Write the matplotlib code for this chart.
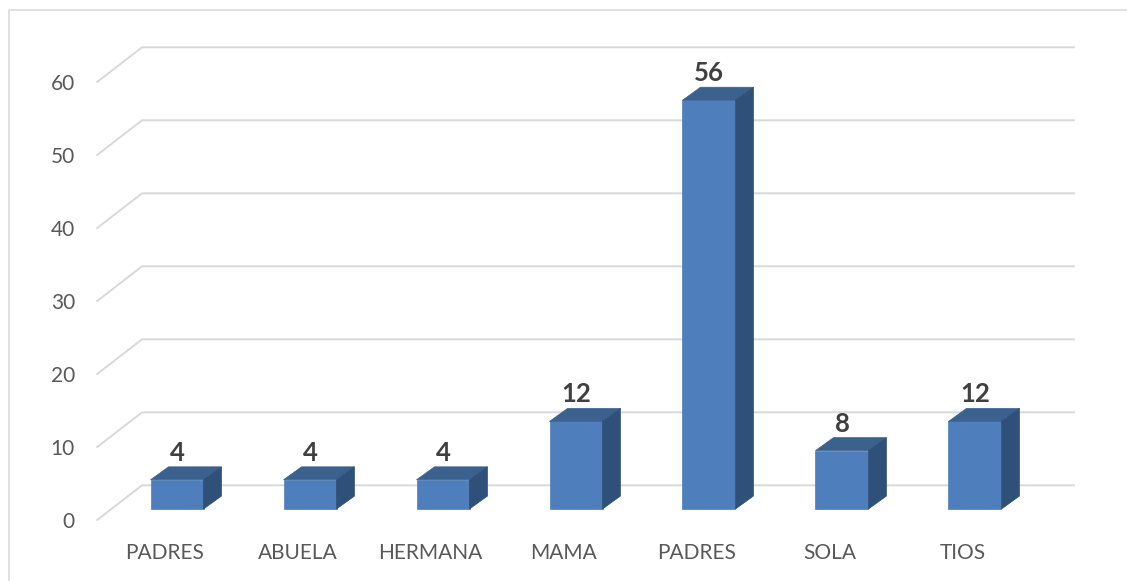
import matplotlib
matplotlib.use("Agg")
import matplotlib.pyplot as plt
from matplotlib.patches import Polygon
from matplotlib.lines import Line2D

categories = ["PADRES", "ABUELA", "HERMANA", "MAMA", "PADRES", "SOLA", "TIOS"]
values = [4, 4, 4, 12, 56, 8, 12]
y_ticks = [0, 10, 20, 30, 40, 50, 60]

plt.rcParams['font.family'] = ['Lato', 'DejaVu Sans']

c_front = "#4e7fbc"
c_top = "#3b618f"
c_side = "#2f5078"
c_grid = "#d9d9d9"
c_text = "#595959"
c_label = "#404040"

fig = plt.figure(figsize=(11.27, 5.81), dpi=100)
# axes fills the figure, limits chosen so one category = 133 px and 10 units = 73 px
ax = fig.add_axes([0, 0, 1, 1])
ax.set_xlim(-1.331, 7.143)
ax.set_ylim(-9.86, 69.73)
ax.axis('off')

half = 26.5 / 133
dx = 18 / 133     # depth of the bar
dy = 13 / 7.3
floor_y = -1.5    # front edge of the floor
wall_dy = 4.75    # floor depth
x_front = -0.60
x_back = -0.263
x_end = 6.744

for t in y_ticks:
    ax.plot([x_front, x_back, x_end], [t + floor_y, t + floor_y + wall_dy, t + floor_y + wall_dy],
            color=c_grid, lw=1.4, zorder=1, solid_joinstyle='miter')
    ax.annotate(str(t), (x_front, t + floor_y), xytext=(-16, -1.5), textcoords='offset points',
                ha='right', va='center', fontsize=15, color=c_text)

for i, v in enumerate(values):
    l, r = i - half, i + half
    ax.add_patch(Polygon([(l, 0), (r, 0), (r, v), (l, v)], facecolor=c_front, edgecolor=c_front, lw=0.5, zorder=3))
    ax.add_patch(Polygon([(l, v), (r, v), (r + dx, v + dy), (l + dx, v + dy)], facecolor=c_top, edgecolor=c_top, lw=0.5, zorder=3))
    ax.add_patch(Polygon([(r, 0), (r + dx, dy), (r + dx, v + dy), (r, v)], facecolor=c_side, edgecolor=c_side, lw=0.5, zorder=3))
    ax.annotate(str(v), (i, v), xytext=(0, 19.5), textcoords='offset points', ha='center', va='center',
                fontsize=18.5, fontweight='bold', color=c_label, zorder=4)
    ax.annotate(categories[i], (i, 0), xytext=(-9, -31.7), textcoords='offset points', ha='center', va='center',
                fontsize=15, color=c_text)

# chart frame
fig.add_artist(Line2D([9 / 1127, 9 / 1127, 1], [0, 1 - 10 / 581, 1 - 10 / 581], color=c_grid, lw=1.1))

fig.savefig("out.png", dpi=100)
